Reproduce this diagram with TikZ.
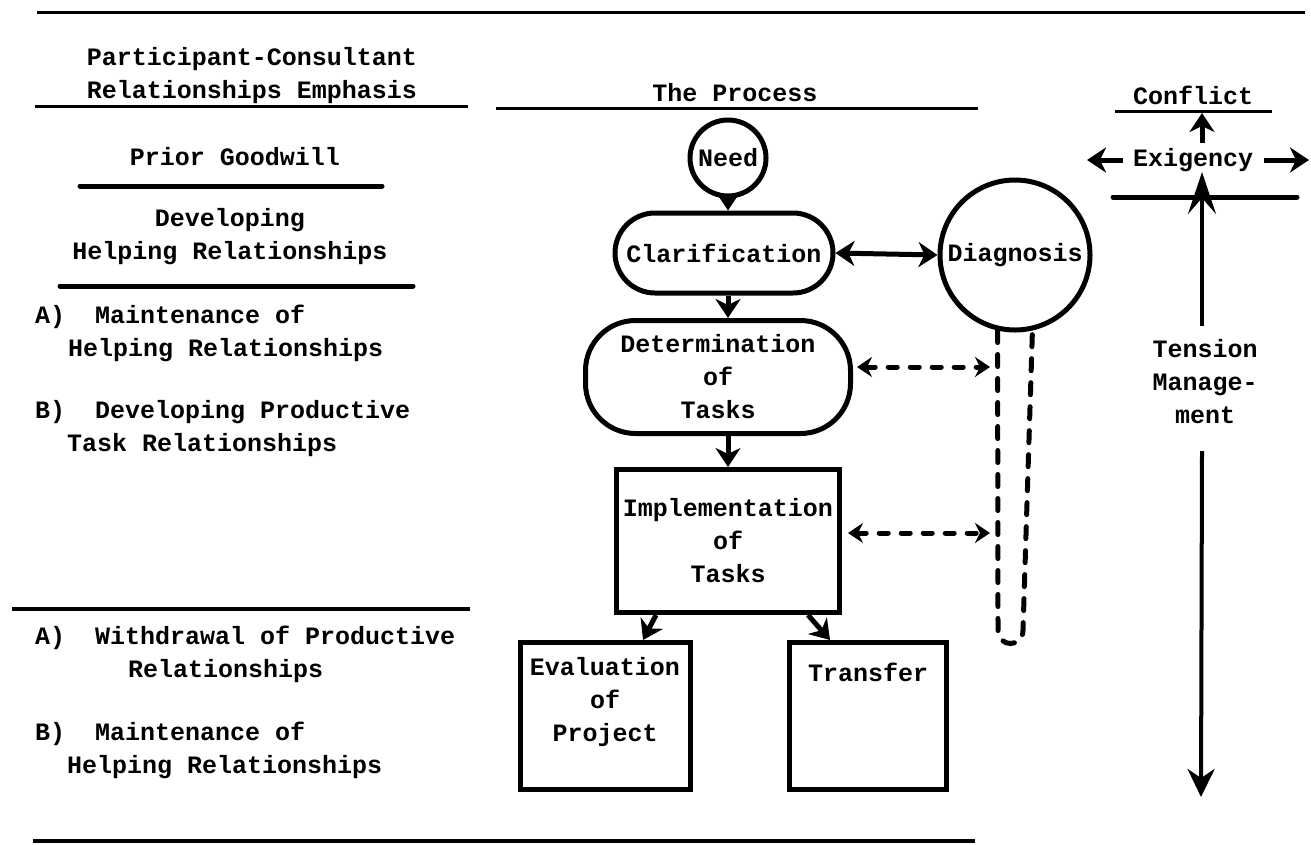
\documentclass[tikz,border=0pt]{standalone}
\usepackage{fontspec}
\setmainfont{Liberation Mono}
\usetikzlibrary{arrows.meta,calc}
\tikzset{
  txt/.style={font=\bfseries\fontsize{25}{33}\selectfont, inner sep=0pt, align=center},
  shp/.style={draw, line width=5pt, txt},
  arr/.style={line width=5pt, -{Stealth[length=19pt,width=25pt,inset=6pt]}},
  darr/.style={line width=5pt, {Stealth[length=19pt,width=25pt,inset=6pt]}-{Stealth[length=19pt,width=25pt,inset=6pt]}},
  dsharr/.style={line width=5pt, dash pattern=on 9pt off 13pt, line cap=round, {Stealth[length=15pt,width=20pt,inset=5pt]}-{Stealth[length=15pt,width=20pt,inset=5pt]}},
  dshline/.style={line width=5pt, dash pattern=on 12pt off 12pt, line cap=round},
  hrule/.style={line width=3pt},
  boldrule/.style={line width=5pt, line cap=round},
  bigarr/.style={line width=4pt, -{Stealth[length=28pt,width=27pt,inset=9pt]}},
  uparr/.style={line width=4pt, -{Stealth[length=42pt,width=28pt,inset=16pt]}},
}
\begin{document}
\begin{tikzpicture}[x=1pt,y=-1pt]
\fill[white] (0,0) rectangle (1311,844);
\useasboundingbox (0,0) rectangle (1311,844);

% ---- rules
\coordinate (t1) at (37,12);   \coordinate (t2) at (1305,12);
\draw[hrule] (t1) -- (t2);
\coordinate (r1a) at (35,106);  \coordinate (r1b) at (468,106);
\draw[hrule] (r1a) -- (r1b);
\coordinate (r2a) at (496,108); \coordinate (r2b) at (978,108);
\draw[hrule] (r2a) -- (r2b);
\coordinate (r3a) at (1115,111); \coordinate (r3b) at (1272,111);
\draw[hrule] (r3a) -- (r3b);
\coordinate (r4a) at (80,186);  \coordinate (r4b) at (382,186);
\draw[boldrule] (r4a) -- (r4b);
\coordinate (r5a) at (60,286);  \coordinate (r5b) at (413,286);
\draw[boldrule] (r5a) -- (r5b);
\coordinate (r6a) at (12,609);  \coordinate (r6b) at (470,609);
\draw[line width=4pt] (r6a) -- (r6b);
\coordinate (r7a) at (33,841);  \coordinate (r7b) at (975,841);
\draw[line width=4pt] (r7a) -- (r7b);
\coordinate (r8a) at (1113,197); \coordinate (r8b) at (1297,197);
\draw[boldrule] (r8a) -- (r8b);

% ---- left column
\node[txt] (hdr) at (252,76) {Participant-Consultant\\Relationships Emphasis};
\node[txt] (prior) at (235,157) {Prior Goodwill};
\node[txt] (dev) at (230,237) {Developing\\Helping Relationships};
\node[txt, align=left, anchor=west] (a1) at (35,333) {A)\ \ Maintenance of\\\hspace*{33pt}Helping Relationships};
\node[txt, align=left, anchor=west] (b1) at (35,429) {B)\ \ Developing Productive\\\hspace*{32pt}Task Relationships};
\node[txt, align=left, anchor=west] (a2) at (35,654) {A)\ \ Withdrawal of Productive\\\hspace*{93pt}Relationships};
\node[txt, align=left, anchor=west] (b2) at (35,750) {B)\ \ Maintenance of\\\hspace*{32pt}Helping Relationships};

% ---- process column
\node[txt] (proc) at (735,93) {The Process};
\node[shp, circle, minimum size=76pt] (need) at (728,158) {Need};
\node[shp, rectangle, rounded corners=40pt, minimum width=218pt, minimum height=80pt] (clar) at (724,253) {Clarification};
\node[shp, circle, minimum size=150pt] (diag) at (1015,255) {Diagnosis};
\node[shp, rectangle, rounded corners=50pt, minimum width=265pt, minimum height=113pt] (det) at (718,377) {Determination\\of\\Tasks};
\node[shp, rectangle, minimum width=223pt, minimum height=143pt] (impl) at (728,541) {Implementation\\of\\Tasks};
\node[draw, line width=5pt, minimum width=170pt, minimum height=147pt] (eval) at (605,716) {};
\node[txt] (evalt) at (605,702) {Evaluation\\of\\Project};
\node[draw, line width=5pt, minimum width=157pt, minimum height=147pt] (trans) at (868,716) {};
\node[txt] (transt) at (868,672) {Transfer};

\draw[arr] (need.south) -- (need.south |- clar.north);
\draw[darr] (clar.east) -- (diag.west);
\draw[arr] (need.south |- clar.south) -- (need.south |- det.north);
\draw[arr] (impl.north |- det.south) -- (impl.north);
\draw[arr] ($(impl.south)+(-72,0)$) -- ($(eval.north)+(38,0)$);
\draw[arr] ($(impl.south)+(80,0)$) -- ($(trans.north)+(-38,0)$);

% diagnosis stem
\coordinate (sL) at (diag.-103);
\coordinate (sR) at (diag.-77);
\draw[dshline] (sL) -- (998,630) .. controls (998,648) and (1023,648) .. (1023,630) -- (sR);
\coordinate (d1) at (990,367);
\coordinate (d2) at (990,533);
\draw[dsharr] ($(det.east)+(4,-10)$) -- (d1);
\draw[dsharr] ($(impl.east)+(6,-8)$) -- (d2);

% ---- conflict column
\node[txt] (conf) at (1193,95) {Conflict};
\node[txt] (exig) at (1193,160) {Exigency};
\node[txt] (tens) at (1205,382) {Tension\\Manage-\\ment};
\coordinate (cu1) at (1202,143); \coordinate (cu2) at (1202,113);
\draw[arr] (cu1) -- (cu2);
\coordinate (el1) at (1123,160); \coordinate (el2) at (1087,160);
\draw[arr] (el1) -- (el2);
\coordinate (er1) at (1264,160); \coordinate (er2) at (1309,160);
\draw[arr] (er1) -- (er2);
\coordinate (vt) at (1202,172); \coordinate (vb1) at (1202,326);
\draw[uparr] (vb1) -- (vt);
\coordinate (vb2) at (1202,451); \coordinate (tb) at (1201,797);
\draw[bigarr] (vb2) -- (tb);
\end{tikzpicture}
\end{document}
